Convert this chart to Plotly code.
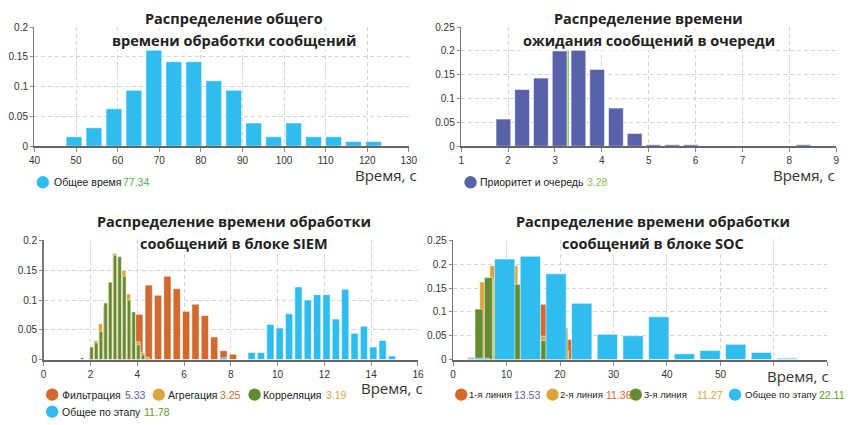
import plotly.graph_objects as go

W, H = 859, 425

# ---------------- data ----------------
# top-left: total processing time
total_x = [49.5, 54.3, 59.1, 63.9, 68.7, 73.5, 78.3, 83.1, 87.9, 92.7, 97.5, 102.3, 107.1, 111.9, 116.7, 121.5]
total_y = [0.016, 0.031, 0.063, 0.094, 0.165, 0.142, 0.142, 0.110, 0.094, 0.039, 0.016, 0.039, 0.016, 0.016, 0.008, 0.008]
total_name = "Общее время"
total_mean = 77.34

# top-right: queue waiting time
queue_x = [1.9, 2.3, 2.7, 3.1, 3.5, 3.9, 4.3, 4.7, 5.1, 5.5, 5.9, 6.3, 6.7, 7.1, 7.5, 7.9, 8.3]
queue_y = [0.057, 0.119, 0.143, 0.200, 0.202, 0.161, 0.080, 0.027, 0.003, 0.003, 0.003, 0, 0, 0, 0, 0, 0.003]
queue_name = "Приоритет и очередь"
queue_mean = 3.28

# bottom-left: SIEM block
filt_x = [3.29, 3.69, 4.09, 4.49, 4.89, 5.29, 5.69, 6.09, 6.49, 6.89, 7.29, 7.69, 8.09]
filt_y = [0.04, 0.06, 0.076, 0.125, 0.108, 0.140, 0.119, 0.081, 0.093, 0.074, 0.038, 0.015, 0.009]
aggr_x = [2.03, 2.23, 2.43, 2.63, 2.83, 3.03, 3.23, 3.43, 3.63, 3.83, 4.03, 4.23, 4.43]
aggr_y = [0.012, 0.032, 0.06, 0.09, 0.13, 0.178, 0.17, 0.15, 0.11, 0.08, 0.03, 0.012, 0.004]
corr_x = [1.65, 2.05, 2.25, 2.45, 2.65, 2.85, 3.05, 3.25, 3.45, 3.65, 3.85, 4.05, 4.25]
corr_y = [0.003, 0.021, 0.028, 0.047, 0.095, 0.13, 0.175, 0.173, 0.14, 0.10, 0.08, 0.025, 0.008]
siem_x = [7.69, 8.09, 8.49, 8.89, 9.29, 9.69, 10.09, 10.49, 10.89, 11.29, 11.69, 12.09, 12.49, 12.89, 13.29, 13.69, 14.09, 14.49, 14.89]
siem_y = [0.003, 0, 0, 0.012, 0.012, 0.059, 0.053, 0.077, 0.122, 0.100, 0.109, 0.109, 0.068, 0.118, 0.044, 0.056, 0.021, 0.032, 0.006]
siem_names = ["Фильтрация", "Агрегация", "Корреляция", "Общее по этапу"]
siem_means = [5.33, 3.25, 3.19, 11.78]

# bottom-right: SOC block
l1_x = [5.23, 6.9, 8.57, 10.23, 11.9, 13.57, 15.23, 16.9, 18.57, 20.23, 21.9, 23.57, 25.23]
l1_y = [0.05, 0.1, 0.13, 0.13, 0.14, 0.12, 0.1, 0.116, 0.06, 0.04, 0.042, 0.01, 0.002]
l2_x = [3.4, 5.7, 7.6, 9.5, 11.4, 13.3, 15.2, 17.1, 19.0, 20.9, 22.8]
l2_y = [0.005, 0.163, 0.197, 0.2, 0.197, 0.1, 0.06, 0.049, 0.02, 0.018, 0.003]
l3_x = [4.85, 6.61, 8.37, 10.13, 11.89, 13.65, 15.41, 17.17, 18.93, 20.69]
l3_y = [0.106, 0.172, 0.17, 0.15, 0.158, 0.09, 0.05, 0.04, 0.02, 0.066]
soc_x = [4.86, 9.66, 14.46, 19.26, 24.06, 28.86, 33.66, 38.46, 43.26, 48.06, 52.86, 57.66, 62.46]
soc_y = [0.003, 0.211, 0.217, 0.180, 0.118, 0.053, 0.050, 0.090, 0.012, 0.019, 0.032, 0.015, 0.003]
soc_names = ["1-я линия", "2-я линия", "3-я линия", "Общее по этапу"]
soc_means = [13.53, 11.36, 11.27, 22.11]

titles = [
    ["Распределение общего", "времени обработки сообщений"],
    ["Распределение времени", "ожидания сообщений в очереди"],
    ["Распределение времени обработки", "сообщений в блоке SIEM"],
    ["Распределение времени обработки", "сообщений в блоке SOC"],
]
axis_title = "Время, с"

# ---------------- style ----------------
BLUE = "#2fbdf0"
PURPLE = "#5861a9"
ORANGE = "#d2692d"
GOLD = "#dca53a"
GREEN = "#648a32"
MEAN_TL = "#4caf50"
MEAN_TR = "#8bc34a"
NUM_GREEN = "#5f9a2e"


def px(x):
    return x / W


def py(y):
    return 1 - y / H


fig = go.Figure()


def bars(x, y, color, n, width):
    fig.add_trace(go.Bar(
        x=x, y=y, width=width,
        marker=dict(color=color, line=dict(color="rgba(255,255,255,0.55)", width=1)),
        xaxis="x" + ("" if n == 1 else str(n)), yaxis="y" + ("" if n == 1 else str(n)),
        showlegend=False, hoverinfo="skip"))


bars(total_x, total_y, BLUE, 1, 3.8)
bars(queue_x, queue_y, PURPLE, 2, 0.315)
bars(filt_x, filt_y, ORANGE, 3, 0.31)
bars(aggr_x, aggr_y, GOLD, 3, 0.175)
bars(corr_x, corr_y, GREEN, 3, 0.15)
bars(siem_x, siem_y, BLUE, 3, 0.31)
bars(l1_x, l1_y, ORANGE, 4, 1.45)
bars(l2_x, l2_y, GOLD, 4, 1.45)
bars(l3_x, l3_y, GREEN, 4, 1.5)
bars(soc_x, soc_y, BLUE, 4, 3.8)

tickfont = dict(family="Liberation Sans, Arial, sans-serif", size=10, color="#333")


def xax(dom, rng, dtick, anchor, ticktext=None, tickvals=None):
    d = dict(domain=dom, range=rng, anchor=anchor, showgrid=True, gridcolor="#d4d4d4",
             griddash="4px,3px", gridwidth=1, showline=True, linecolor="#666", linewidth=2,
             ticks="outside", ticklen=4, tickcolor="#888", tickfont=tickfont, zeroline=False,
             fixedrange=True)
    if tickvals is not None:
        d.update(tickmode="array", tickvals=tickvals, ticktext=ticktext)
    else:
        d.update(tickmode="linear", tick0=rng[0], dtick=dtick)
    return d


def yax(dom, rng, anchor):
    return dict(domain=dom, range=rng, anchor=anchor, showgrid=True, gridcolor="#d4d4d4",
                griddash="4px,3px", gridwidth=1, showline=True, linecolor="#777", linewidth=1.5,
                ticks="outside", ticklen=3, tickcolor="#888", tickfont=tickfont, zeroline=False,
                tickmode="linear", tick0=0, dtick=0.05, fixedrange=True)


top_y = [py(145), py(22.7)]
bot_y = [py(364), py(241.7)]

br_ticks = [0, 10, 20, 30, 40, 50, 60, 70]
br_text = ["0", "10", "20", "30", "40", "50", "", ""]

fig.update_layout(
    width=W, height=H, margin=dict(l=0, r=0, t=0, b=0),
    paper_bgcolor="white", plot_bgcolor="white",
    barmode="overlay", showlegend=False,
    xaxis=xax([px(29), px(410)], [40, 130], 10, "y"),
    yaxis=yax(top_y, [0, 0.2], "x"),
    xaxis2=xax([px(463.3), px(845)], [1, 9], 1, "y2"),
    yaxis2=yax(top_y, [0, 0.25], "x2"),
    xaxis3=xax([px(38.3), px(419.3)], [0, 16], 2, "y3"),
    yaxis3=yax(bot_y, [0, 0.2], "x3"),
    xaxis4=xax([px(455), px(836)], [0, 70], 10, "y4", ticktext=br_text, tickvals=br_ticks),
    yaxis4=yax(bot_y, [0, 0.25], "x4"),
)

# mean line of the queue chart (drawn between grid and bars)
shapes = [
    dict(type="line", xref="x2", yref="y2", x0=queue_mean, x1=queue_mean, y0=0, y1=max(queue_y),
         line=dict(color=MEAN_TR, width=1.5), layer="between"),
]

annotations = []

title_font = dict(family="Open Sans, sans-serif", size=14.5, color="#222", weight="bold")
title_pos = [(232, 13.5, 36.5), (654, 13.5, 36.5), (232, 222, 245), (658, 222, 245)]
for (cx, y1, y2), (t1, t2) in zip(title_pos, titles):
    for yy, tt in ((y1, t1), (y2, t2)):
        annotations.append(dict(x=px(cx), y=py(yy), xref="paper", yref="paper", text=tt,
                                showarrow=False, xanchor="center", yanchor="middle",
                                font=title_font, bgcolor="white", borderpad=0))

at_font = dict(family="Open Sans, sans-serif", size=15, color="#333")
for cx, cy in [(387, 175), (812, 175), (393, 393.5), (806, 381)]:
    annotations.append(dict(x=px(cx), y=py(cy), xref="paper", yref="paper", text=axis_title,
                            showarrow=False, xanchor="center", yanchor="middle", font=at_font))

LEG_FAMILY = "Liberation Sans, Arial, sans-serif"


def legend_item(cx, cy, color, name, value, vcolor, tx, vx, nsize=10.5):
    shapes.append(dict(type="circle", xref="paper", yref="paper", xsizemode="pixel",
                       ysizemode="pixel", xanchor=px(cx), yanchor=py(cy), x0=-6.2, x1=6.2,
                       y0=-6.2, y1=6.2, fillcolor=color, line=dict(width=0)))
    annotations.append(dict(x=px(tx), y=py(cy), xref="paper", yref="paper", text=name,
                            showarrow=False, xanchor="left", yanchor="middle", borderpad=0,
                            font=dict(family=LEG_FAMILY, size=nsize, color="#222")))
    annotations.append(dict(x=px(vx), y=py(cy), xref="paper", yref="paper", text=str(value),
                            showarrow=False, xanchor="left", yanchor="middle", borderpad=0,
                            font=dict(family=LEG_FAMILY, size=10.5, color=vcolor)))


legend_item(37.5, 182, BLUE, total_name, total_mean, MEAN_TL, 47.5, 118.5)
legend_item(472.8, 182, PURPLE, queue_name, queue_mean, MEAN_TR, 481.5, 590)

siem_colors = [ORANGE, GOLD, GREEN, BLUE]
siem_vcolors = [PURPLE, ORANGE, GOLD, NUM_GREEN]
siem_pos = [(47, 400, 56, 120), (155.5, 400, 163.5, 216.5), (253, 400, 261, 324.5), (47, 417.5, 56, 139.5)]
for (cx, cy, tx, vx), c, nm, mv, vc in zip(siem_pos, siem_colors, siem_names, siem_means, siem_vcolors):
    legend_item(cx, cy, c, nm, mv, vc, tx, vx)

soc_pos = [(463.3, 400, 470, 516), (556.3, 400, 563, 609.5), (641, 400, 648, 702), (742, 400, 751, 826)]
soc_sizes = [9.5, 9.5, 9.5, 9.6]
for (cx, cy, tx, vx), c, nm, mv, vc, sz in zip(soc_pos, siem_colors, soc_names, soc_means, siem_vcolors, soc_sizes):
    legend_item(cx, cy, c, nm, mv, vc, tx, vx, nsize=sz)

fig.update_layout(shapes=shapes, annotations=annotations)

fig.write_html("out.html", config={"staticPlot": True},
               post_script="document.body.style.margin='0';document.body.style.overflow='hidden';")
